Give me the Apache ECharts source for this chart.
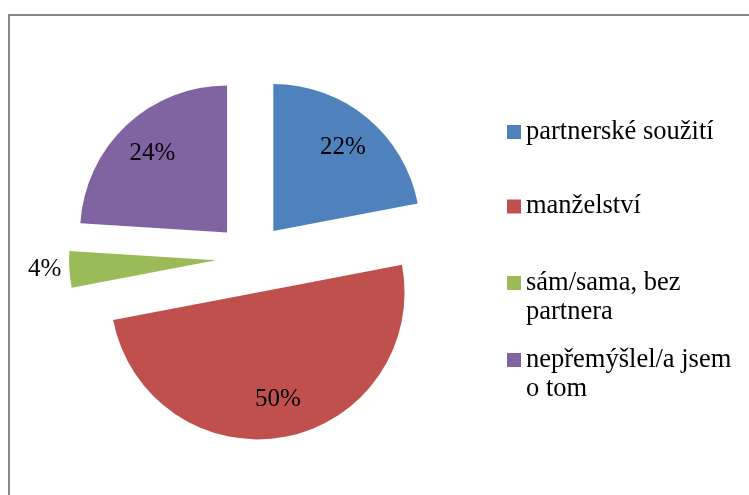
<!DOCTYPE html>
<html>
<head>
<meta charset="utf-8">
<script src="https://cdn.jsdelivr.net/npm/echarts@6/dist/echarts.min.js"></script>
<style>
  html, body { margin: 0; padding: 0; background: #fff; }
  #chart { width: 749px; height: 495px; }
</style>
</head>
<body>
<div id="chart"></div>
<script>
// data
var categories = ["partnerské soužití", "manželství", "sám/sama, bez partnera", "nepřemýšlel/a jsem o tom"];
var values = [22, 50, 4, 24];
var colors = ["#4F81BD", "#C0504D", "#9BBB59", "#8064A2"];
// legend texts as they wrap in the picture
var legendLines = [["partnerské soužití"], ["manželství"], ["sám/sama, bez", "partnera"], ["nepřemýšlel/a jsem", "o tom"]];

var font = "Liberation Serif";
var myChart = echarts.init(document.getElementById("chart"));

var center = [251, 258];
var R = 147;

var pieData = categories.map(function (name, i) {
  return { name: name, value: values[i], selected: true, itemStyle: { color: colors[i] } };
});
// transparent ring only to put the percent labels further out
var labelData = categories.map(function (name, i) {
  var item = { name: name, value: values[i], selected: true, itemStyle: { color: "rgba(0,0,0,0)" } };
  if (values[i] < 10) {
    item.label = { position: "outside" };
  }
  return item;
});

var legendTops = [117.5, 192, 239.5, 316.5];
var legends = categories.map(function (name, i) {
  return {
    orient: "vertical",
    left: 507,
    top: legendTops[i],
    padding: 0,
    icon: "rect",
    itemWidth: 14,
    itemHeight: 14,
    itemGap: 5,
    selectedMode: false,
    data: [{ name: name, itemStyle: { color: colors[i] } }],
    formatter: function () {
      var l = legendLines[i];
      return l.length > 1 ? "\n" + l.join("\n") : l[0];
    },
    textStyle: { fontFamily: font, fontSize: 26.5, color: "#000", lineHeight: 29 }
  };
});

var option = {
  animation: false,
  backgroundColor: "#fff",
  graphic: [{
    type: "polyline",
    shape: { points: [[9, 495], [9, 15], [749, 15]] },
    style: { stroke: "#888888", lineWidth: 2, fill: null },
    silent: true
  }],
  legend: legends,
  series: [
    {
      name: "main",
      type: "pie",
      center: center,
      radius: [0, R],
      startAngle: 90,
      selectedMode: "multiple",
      selectedOffset: 35,
      label: { show: false },
      labelLine: { show: false },
      emphasis: { scale: false },
      data: pieData
    },
    {
      name: "labels",
      type: "pie",
      center: center,
      radius: [65, R],
      startAngle: 90,
      selectedMode: "multiple",
      selectedOffset: 35,
      silent: true,
      legendHoverLink: false,
      avoidLabelOverlap: false,
      label: {
        show: true,
        position: "inside",
        formatter: "{c}%",
        fontFamily: font,
        fontSize: 25,
        color: "#000",
        distanceToLabelLine: 5
      },
      labelLine: { show: false, length: 3, length2: 0 },
      emphasis: { scale: false },
      data: labelData
    }
  ]
};
option && myChart.setOption(option);
</script>
</body>
</html>
